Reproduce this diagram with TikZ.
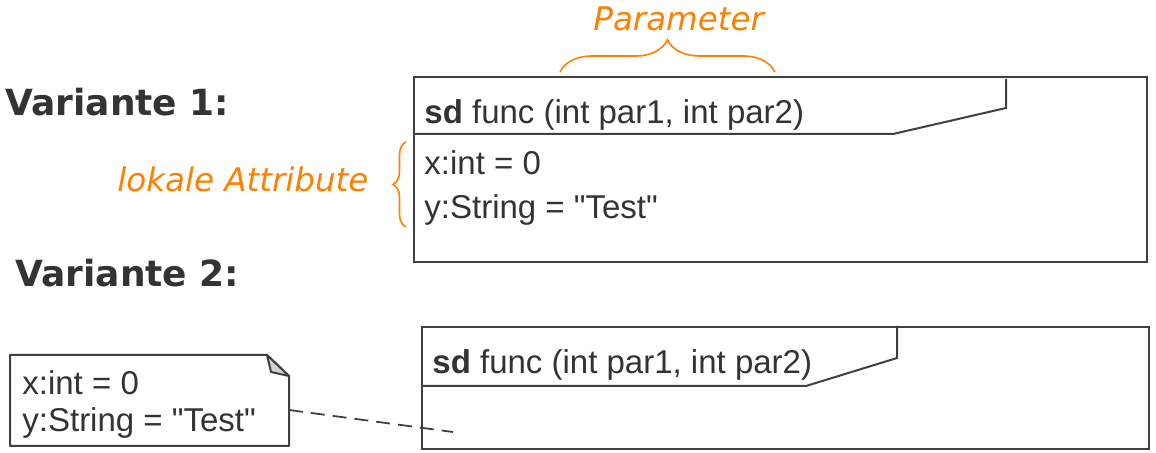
\documentclass[tikz,border=0pt]{standalone}
\usepackage{fontspec}
\setmainfont{Liberation Sans}[Ligatures=TeXOff]
\newfontfamily\verdanafont{DejaVu Sans}
\usetikzlibrary{positioning, decorations.pathreplacing}
\definecolor{lineGray}{RGB}{64,64,64}
\definecolor{textGray}{RGB}{51,51,51}
\definecolor{hintOrange}{RGB}{255,128,0}
\definecolor{foldGray}{RGB}{210,210,210}

\begin{document}
\begin{tikzpicture}[x=0.5pt, y=-0.5pt,
    frame/.style={draw=lineGray, line width=1pt, inner sep=0pt, anchor=north west},
    txt/.style={anchor=base west, inner sep=0pt, text=textGray, font=\fontsize{16.5}{20}\selectfont},
    heading/.style={anchor=base west, inner sep=0pt, text=textGray,
                    font=\verdanafont\bfseries\fontsize{18}{22}\selectfont},
    hint/.style={anchor=base west, inner sep=0pt, text=hintOrange,
                 font=\verdanafont\itshape\fontsize{16.25}{20}\selectfont},
    hintbrace/.style={draw=hintOrange, line width=0.8pt, decorate,
                      decoration={brace, amplitude=#1}},
    assoc/.style={draw=lineGray, line width=0.9pt, dash pattern=on 7pt off 4pt}]
  \useasboundingbox (0,0) rectangle (1156,453);

  % Variante 1: attributes inside the frame
  \node[heading] (var1) at (5,116) {Variante 1:};
  \node[frame, minimum width=366.5pt, minimum height=92.5pt] (f1) at (413,76) {};
  \draw[lineGray, line width=1pt] (413,134) -- (893,134) -- (1006,108) -- (1006,79);
  \node[txt] (f1head) at (424,124) {\textbf{sd} func (int par1, int par2)};
  \node[txt] (f1x) at (424,175) {x:int = 0};
  \node[txt] (f1y) at (424,219) {y:String = "Test"};

  % orange hints
  \node[hint] (param) at (593,31) {Parameter};
  \coordinate (parL) at (560,72);
  \coordinate (parR) at (775,72);
  \draw[hintbrace=16pt] (parL) -- (parR);
  \node[hint] (local) at (117,192) {lokale Attribute};
  \coordinate (locB) at (406,227);
  \coordinate (locT) at (406,142);
  \draw[hintbrace=6.5pt] (locB) -- (locT);

  % Variante 2: attributes in a note
  \node[heading] (var2) at (15,287) {Variante 2:};
  \node[frame, minimum width=363.5pt, minimum height=61pt] (f2) at (421,326) {};
  \draw[lineGray, line width=1pt] (421,386) -- (806,386) -- (897,358) -- (897,326);
  \node[txt] (f2head) at (432,374) {\textbf{sd} func (int par1, int par2)};

  \draw[lineGray, line width=1pt, line join=round]
    (10,355) -- (267,355) -- (289,376) -- (289,446) -- (10,446) -- cycle;
  \draw[lineGray, fill=foldGray, line width=1pt, line join=round]
    (267,355) -- (271,372) -- (289,376) -- cycle;
  \node[txt] (nx) at (22,395) {x:int = 0};
  \node[txt] (ny) at (22,432) {y:String = "Test"};

  \coordinate (noteLink) at (289,410);
  \coordinate (f2Link) at (453,432);
  \draw[assoc] (noteLink) -- (f2Link);
\end{tikzpicture}
\end{document}
